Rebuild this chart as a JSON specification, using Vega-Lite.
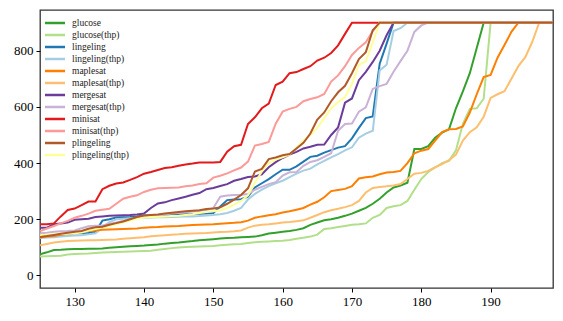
{
  "$schema": "https://vega.github.io/schema/vega-lite/v6.json",
  "width": 513,
  "height": 278,
  "autosize": "none",
  "padding": {"left": 40, "top": 10, "right": 10, "bottom": 33},
  "background": "white",
  "config": {
    "view": {"stroke": "#333333", "strokeWidth": 1.3},
    "axis": {"domain": false, "grid": false, "tickColor": "#000", "tickSize": 4, "tickWidth": 1, "labelFont": "Liberation Serif", "labelFontSize": 13, "labelColor": "#000", "labelPadding": 3, "title": null},
    "legend": {"orient": "none", "legendX": 8, "legendY": 6, "symbolType": "M-1.82,0H1.82", "symbolSize": 121, "symbolStrokeWidth": 2.5, "labelFont": "Liberation Serif", "labelFontSize": 9.5, "labelColor": "#222", "labelOffset": 10, "rowPadding": 0, "title": null, "padding": 0}
  },
  "data": {"values": [
    {"x":125,"glucose":75,"glucose(thp)":67,"lingeling":140,"lingeling(thp)":133,"maplesat":135,"maplesat(thp)":107,"mergesat":170,"mergesat(thp)":150,"minisat":182,"minisat(thp)":158,"plingeling":137,"plingeling(thp)":143},
    {"x":126,"glucose":82,"glucose(thp)":68,"lingeling":141,"lingeling(thp)":135,"maplesat":138,"maplesat(thp)":112,"mergesat":170,"mergesat(thp)":152,"minisat":182,"minisat(thp)":167,"plingeling":140,"plingeling(thp)":145},
    {"x":127,"glucose":90,"glucose(thp)":69,"lingeling":143,"lingeling(thp)":136,"maplesat":140,"maplesat(thp)":117,"mergesat":182,"mergesat(thp)":155,"minisat":185,"minisat(thp)":176,"plingeling":144,"plingeling(thp)":146},
    {"x":128,"glucose":91,"glucose(thp)":70,"lingeling":145,"lingeling(thp)":138,"maplesat":145,"maplesat(thp)":120,"mergesat":185,"mergesat(thp)":157,"minisat":210,"minisat(thp)":185,"plingeling":148,"plingeling(thp)":147},
    {"x":129,"glucose":93,"glucose(thp)":74,"lingeling":147,"lingeling(thp)":140,"maplesat":148,"maplesat(thp)":122,"mergesat":188,"mergesat(thp)":158,"minisat":233,"minisat(thp)":194,"plingeling":152,"plingeling(thp)":148},
    {"x":130,"glucose":94,"glucose(thp)":76,"lingeling":150,"lingeling(thp)":142,"maplesat":152,"maplesat(thp)":123,"mergesat":198,"mergesat(thp)":160,"minisat":238,"minisat(thp)":205,"plingeling":155,"plingeling(thp)":150},
    {"x":131,"glucose":94,"glucose(thp)":77,"lingeling":150,"lingeling(thp)":143,"maplesat":156,"maplesat(thp)":124,"mergesat":200,"mergesat(thp)":168,"minisat":250,"minisat(thp)":212,"plingeling":158,"plingeling(thp)":153},
    {"x":132,"glucose":95,"glucose(thp)":78,"lingeling":151,"lingeling(thp)":146,"maplesat":158,"maplesat(thp)":125,"mergesat":202,"mergesat(thp)":175,"minisat":263,"minisat(thp)":220,"plingeling":166,"plingeling(thp)":160},
    {"x":133,"glucose":95,"glucose(thp)":80,"lingeling":155,"lingeling(thp)":150,"maplesat":160,"maplesat(thp)":125,"mergesat":208,"mergesat(thp)":177,"minisat":263,"minisat(thp)":230,"plingeling":171,"plingeling(thp)":165},
    {"x":134,"glucose":96,"glucose(thp)":81,"lingeling":195,"lingeling(thp)":170,"maplesat":162,"maplesat(thp)":126,"mergesat":210,"mergesat(thp)":178,"minisat":307,"minisat(thp)":234,"plingeling":173,"plingeling(thp)":170},
    {"x":135,"glucose":98,"glucose(thp)":82,"lingeling":200,"lingeling(thp)":190,"maplesat":163,"maplesat(thp)":127,"mergesat":212,"mergesat(thp)":183,"minisat":319,"minisat(thp)":237,"plingeling":180,"plingeling(thp)":176},
    {"x":136,"glucose":100,"glucose(thp)":83,"lingeling":206,"lingeling(thp)":200,"maplesat":164,"maplesat(thp)":128,"mergesat":213,"mergesat(thp)":188,"minisat":327,"minisat(thp)":255,"plingeling":186,"plingeling(thp)":182},
    {"x":137,"glucose":102,"glucose(thp)":84,"lingeling":207,"lingeling(thp)":202,"maplesat":165,"maplesat(thp)":130,"mergesat":214,"mergesat(thp)":194,"minisat":331,"minisat(thp)":273,"plingeling":192,"plingeling(thp)":188},
    {"x":138,"glucose":104,"glucose(thp)":85,"lingeling":208,"lingeling(thp)":203,"maplesat":166,"maplesat(thp)":132,"mergesat":215,"mergesat(thp)":200,"minisat":340,"minisat(thp)":280,"plingeling":200,"plingeling(thp)":195},
    {"x":139,"glucose":105,"glucose(thp)":86,"lingeling":210,"lingeling(thp)":204,"maplesat":167,"maplesat(thp)":134,"mergesat":217,"mergesat(thp)":205,"minisat":350,"minisat(thp)":285,"plingeling":208,"plingeling(thp)":202},
    {"x":140,"glucose":106,"glucose(thp)":87,"lingeling":213,"lingeling(thp)":205,"maplesat":170,"maplesat(thp)":136,"mergesat":220,"mergesat(thp)":210,"minisat":362,"minisat(thp)":297,"plingeling":213,"plingeling(thp)":206},
    {"x":141,"glucose":108,"glucose(thp)":88,"lingeling":213,"lingeling(thp)":206,"maplesat":171,"maplesat(thp)":139,"mergesat":240,"mergesat(thp)":212,"minisat":368,"minisat(thp)":305,"plingeling":215,"plingeling(thp)":208},
    {"x":142,"glucose":110,"glucose(thp)":91,"lingeling":214,"lingeling(thp)":207,"maplesat":172,"maplesat(thp)":141,"mergesat":256,"mergesat(thp)":215,"minisat":375,"minisat(thp)":310,"plingeling":217,"plingeling(thp)":209},
    {"x":143,"glucose":113,"glucose(thp)":94,"lingeling":215,"lingeling(thp)":207,"maplesat":174,"maplesat(thp)":143,"mergesat":260,"mergesat(thp)":217,"minisat":382,"minisat(thp)":311,"plingeling":220,"plingeling(thp)":210},
    {"x":144,"glucose":115,"glucose(thp)":97,"lingeling":216,"lingeling(thp)":208,"maplesat":175,"maplesat(thp)":145,"mergesat":268,"mergesat(thp)":220,"minisat":385,"minisat(thp)":312,"plingeling":223,"plingeling(thp)":211},
    {"x":145,"glucose":117,"glucose(thp)":99,"lingeling":217,"lingeling(thp)":209,"maplesat":176,"maplesat(thp)":146,"mergesat":274,"mergesat(thp)":222,"minisat":390,"minisat(thp)":313,"plingeling":226,"plingeling(thp)":212},
    {"x":146,"glucose":120,"glucose(thp)":101,"lingeling":218,"lingeling(thp)":210,"maplesat":178,"maplesat(thp)":148,"mergesat":280,"mergesat(thp)":225,"minisat":395,"minisat(thp)":317,"plingeling":228,"plingeling(thp)":215},
    {"x":147,"glucose":122,"glucose(thp)":102,"lingeling":218,"lingeling(thp)":210,"maplesat":179,"maplesat(thp)":149,"mergesat":287,"mergesat(thp)":227,"minisat":398,"minisat(thp)":320,"plingeling":230,"plingeling(thp)":218},
    {"x":148,"glucose":125,"glucose(thp)":103,"lingeling":219,"lingeling(thp)":211,"maplesat":180,"maplesat(thp)":150,"mergesat":293,"mergesat(thp)":230,"minisat":402,"minisat(thp)":325,"plingeling":232,"plingeling(thp)":222},
    {"x":149,"glucose":127,"glucose(thp)":104,"lingeling":220,"lingeling(thp)":213,"maplesat":181,"maplesat(thp)":151,"mergesat":307,"mergesat(thp)":233,"minisat":402,"minisat(thp)":328,"plingeling":236,"plingeling(thp)":226},
    {"x":150,"glucose":129,"glucose(thp)":105,"lingeling":222,"lingeling(thp)":215,"maplesat":182,"maplesat(thp)":153,"mergesat":311,"mergesat(thp)":240,"minisat":402,"minisat(thp)":348,"plingeling":238,"plingeling(thp)":228},
    {"x":151,"glucose":131,"glucose(thp)":107,"lingeling":245,"lingeling(thp)":218,"maplesat":184,"maplesat(thp)":154,"mergesat":318,"mergesat(thp)":280,"minisat":404,"minisat(thp)":355,"plingeling":242,"plingeling(thp)":232},
    {"x":152,"glucose":133,"glucose(thp)":109,"lingeling":268,"lingeling(thp)":222,"maplesat":186,"maplesat(thp)":155,"mergesat":325,"mergesat(thp)":284,"minisat":440,"minisat(thp)":363,"plingeling":255,"plingeling(thp)":240},
    {"x":153,"glucose":134,"glucose(thp)":111,"lingeling":270,"lingeling(thp)":230,"maplesat":187,"maplesat(thp)":157,"mergesat":337,"mergesat(thp)":286,"minisat":460,"minisat(thp)":374,"plingeling":270,"plingeling(thp)":252},
    {"x":154,"glucose":136,"glucose(thp)":112,"lingeling":271,"lingeling(thp)":240,"maplesat":189,"maplesat(thp)":160,"mergesat":343,"mergesat(thp)":287,"minisat":465,"minisat(thp)":384,"plingeling":286,"plingeling(thp)":265},
    {"x":155,"glucose":137,"glucose(thp)":115,"lingeling":280,"lingeling(thp)":270,"maplesat":195,"maplesat(thp)":170,"mergesat":350,"mergesat(thp)":290,"minisat":539,"minisat(thp)":405,"plingeling":310,"plingeling(thp)":285},
    {"x":156,"glucose":138,"glucose(thp)":118,"lingeling":313,"lingeling(thp)":290,"maplesat":205,"maplesat(thp)":177,"mergesat":352,"mergesat(thp)":305,"minisat":563,"minisat(thp)":462,"plingeling":370,"plingeling(thp)":330},
    {"x":157,"glucose":143,"glucose(thp)":120,"lingeling":328,"lingeling(thp)":305,"maplesat":210,"maplesat(thp)":180,"mergesat":360,"mergesat(thp)":315,"minisat":595,"minisat(thp)":468,"plingeling":379,"plingeling(thp)":370},
    {"x":158,"glucose":149,"glucose(thp)":121,"lingeling":343,"lingeling(thp)":318,"maplesat":214,"maplesat(thp)":182,"mergesat":385,"mergesat(thp)":325,"minisat":612,"minisat(thp)":475,"plingeling":414,"plingeling(thp)":400},
    {"x":159,"glucose":152,"glucose(thp)":122,"lingeling":360,"lingeling(thp)":328,"maplesat":218,"maplesat(thp)":185,"mergesat":403,"mergesat(thp)":332,"minisat":678,"minisat(thp)":540,"plingeling":420,"plingeling(thp)":412},
    {"x":160,"glucose":155,"glucose(thp)":123,"lingeling":376,"lingeling(thp)":337,"maplesat":224,"maplesat(thp)":188,"mergesat":418,"mergesat(thp)":355,"minisat":690,"minisat(thp)":583,"plingeling":428,"plingeling(thp)":420},
    {"x":161,"glucose":158,"glucose(thp)":126,"lingeling":376,"lingeling(thp)":350,"maplesat":228,"maplesat(thp)":190,"mergesat":430,"mergesat(thp)":367,"minisat":720,"minisat(thp)":593,"plingeling":432,"plingeling(thp)":430},
    {"x":162,"glucose":162,"glucose(thp)":130,"lingeling":388,"lingeling(thp)":362,"maplesat":234,"maplesat(thp)":193,"mergesat":440,"mergesat(thp)":368,"minisat":724,"minisat(thp)":600,"plingeling":452,"plingeling(thp)":455},
    {"x":163,"glucose":168,"glucose(thp)":134,"lingeling":405,"lingeling(thp)":373,"maplesat":240,"maplesat(thp)":196,"mergesat":452,"mergesat(thp)":390,"minisat":735,"minisat(thp)":620,"plingeling":472,"plingeling(thp)":480},
    {"x":164,"glucose":180,"glucose(thp)":138,"lingeling":422,"lingeling(thp)":380,"maplesat":252,"maplesat(thp)":205,"mergesat":458,"mergesat(thp)":404,"minisat":745,"minisat(thp)":628,"plingeling":505,"plingeling(thp)":500},
    {"x":165,"glucose":188,"glucose(thp)":145,"lingeling":426,"lingeling(thp)":395,"maplesat":262,"maplesat(thp)":215,"mergesat":465,"mergesat(thp)":410,"minisat":765,"minisat(thp)":634,"plingeling":555,"plingeling(thp)":525},
    {"x":166,"glucose":196,"glucose(thp)":165,"lingeling":437,"lingeling(thp)":408,"maplesat":278,"maplesat(thp)":225,"mergesat":466,"mergesat(thp)":422,"minisat":775,"minisat(thp)":646,"plingeling":580,"plingeling(thp)":560},
    {"x":167,"glucose":200,"glucose(thp)":168,"lingeling":446,"lingeling(thp)":420,"maplesat":300,"maplesat(thp)":232,"mergesat":500,"mergesat(thp)":435,"minisat":792,"minisat(thp)":690,"plingeling":620,"plingeling(thp)":595},
    {"x":168,"glucose":205,"glucose(thp)":172,"lingeling":455,"lingeling(thp)":432,"maplesat":304,"maplesat(thp)":237,"mergesat":527,"mergesat(thp)":515,"minisat":819,"minisat(thp)":712,"plingeling":652,"plingeling(thp)":617},
    {"x":169,"glucose":212,"glucose(thp)":176,"lingeling":460,"lingeling(thp)":445,"maplesat":308,"maplesat(thp)":243,"mergesat":615,"mergesat(thp)":539,"minisat":860,"minisat(thp)":745,"plingeling":675,"plingeling(thp)":635},
    {"x":170,"glucose":220,"glucose(thp)":180,"lingeling":488,"lingeling(thp)":456,"maplesat":318,"maplesat(thp)":250,"mergesat":630,"mergesat(thp)":541,"minisat":900,"minisat(thp)":785,"plingeling":720,"plingeling(thp)":682},
    {"x":171,"glucose":230,"glucose(thp)":182,"lingeling":525,"lingeling(thp)":490,"maplesat":345,"maplesat(thp)":265,"mergesat":695,"mergesat(thp)":583,"minisat":900,"minisat(thp)":810,"plingeling":770,"plingeling(thp)":750},
    {"x":172,"glucose":240,"glucose(thp)":185,"lingeling":560,"lingeling(thp)":505,"maplesat":349,"maplesat(thp)":295,"mergesat":725,"mergesat(thp)":598,"minisat":900,"minisat(thp)":830,"plingeling":795,"plingeling(thp)":762},
    {"x":173,"glucose":255,"glucose(thp)":205,"lingeling":566,"lingeling(thp)":515,"maplesat":352,"maplesat(thp)":311,"mergesat":760,"mergesat(thp)":664,"minisat":900,"minisat(thp)":870,"plingeling":873,"plingeling(thp)":830},
    {"x":174,"glucose":273,"glucose(thp)":215,"lingeling":754,"lingeling(thp)":730,"maplesat":360,"maplesat(thp)":315,"mergesat":800,"mergesat(thp)":674,"minisat":900,"minisat(thp)":900,"plingeling":900,"plingeling(thp)":900},
    {"x":175,"glucose":295,"glucose(thp)":240,"lingeling":825,"lingeling(thp)":750,"maplesat":366,"maplesat(thp)":317,"mergesat":855,"mergesat(thp)":682,"minisat":900,"minisat(thp)":900,"plingeling":900,"plingeling(thp)":900},
    {"x":176,"glucose":313,"glucose(thp)":246,"lingeling":900,"lingeling(thp)":870,"maplesat":368,"maplesat(thp)":320,"mergesat":900,"mergesat(thp)":725,"minisat":900,"minisat(thp)":900,"plingeling":900,"plingeling(thp)":900},
    {"x":177,"glucose":320,"glucose(thp)":250,"lingeling":900,"lingeling(thp)":880,"maplesat":372,"maplesat(thp)":325,"mergesat":900,"mergesat(thp)":763,"minisat":900,"minisat(thp)":900,"plingeling":900,"plingeling(thp)":900},
    {"x":178,"glucose":330,"glucose(thp)":265,"lingeling":900,"lingeling(thp)":900,"maplesat":400,"maplesat(thp)":343,"mergesat":900,"mergesat(thp)":800,"minisat":900,"minisat(thp)":900,"plingeling":900,"plingeling(thp)":900},
    {"x":179,"glucose":450,"glucose(thp)":305,"lingeling":900,"lingeling(thp)":900,"maplesat":435,"maplesat(thp)":362,"mergesat":900,"mergesat(thp)":867,"minisat":900,"minisat(thp)":900,"plingeling":900,"plingeling(thp)":900},
    {"x":180,"glucose":450,"glucose(thp)":343,"lingeling":900,"lingeling(thp)":900,"maplesat":444,"maplesat(thp)":365,"mergesat":900,"mergesat(thp)":890,"minisat":900,"minisat(thp)":900,"plingeling":900,"plingeling(thp)":900},
    {"x":181,"glucose":460,"glucose(thp)":368,"lingeling":900,"lingeling(thp)":900,"maplesat":450,"maplesat(thp)":372,"mergesat":900,"mergesat(thp)":900,"minisat":900,"minisat(thp)":900,"plingeling":900,"plingeling(thp)":900},
    {"x":182,"glucose":490,"glucose(thp)":384,"lingeling":900,"lingeling(thp)":900,"maplesat":480,"maplesat(thp)":385,"mergesat":900,"mergesat(thp)":900,"minisat":900,"minisat(thp)":900,"plingeling":900,"plingeling(thp)":900},
    {"x":183,"glucose":508,"glucose(thp)":400,"lingeling":900,"lingeling(thp)":900,"maplesat":510,"maplesat(thp)":396,"mergesat":900,"mergesat(thp)":900,"minisat":900,"minisat(thp)":900,"plingeling":900,"plingeling(thp)":900},
    {"x":184,"glucose":520,"glucose(thp)":408,"lingeling":900,"lingeling(thp)":900,"maplesat":520,"maplesat(thp)":410,"mergesat":900,"mergesat(thp)":900,"minisat":900,"minisat(thp)":900,"plingeling":900,"plingeling(thp)":900},
    {"x":185,"glucose":595,"glucose(thp)":445,"lingeling":900,"lingeling(thp)":900,"maplesat":521,"maplesat(thp)":430,"mergesat":900,"mergesat(thp)":900,"minisat":900,"minisat(thp)":900,"plingeling":900,"plingeling(thp)":900},
    {"x":186,"glucose":655,"glucose(thp)":540,"lingeling":900,"lingeling(thp)":900,"maplesat":530,"maplesat(thp)":480,"mergesat":900,"mergesat(thp)":900,"minisat":900,"minisat(thp)":900,"plingeling":900,"plingeling(thp)":900},
    {"x":187,"glucose":720,"glucose(thp)":593,"lingeling":900,"lingeling(thp)":900,"maplesat":580,"maplesat(thp)":510,"mergesat":900,"mergesat(thp)":900,"minisat":900,"minisat(thp)":900,"plingeling":900,"plingeling(thp)":900},
    {"x":188,"glucose":810,"glucose(thp)":595,"lingeling":900,"lingeling(thp)":900,"maplesat":645,"maplesat(thp)":527,"mergesat":900,"mergesat(thp)":900,"minisat":900,"minisat(thp)":900,"plingeling":900,"plingeling(thp)":900},
    {"x":189,"glucose":900,"glucose(thp)":629,"lingeling":900,"lingeling(thp)":900,"maplesat":706,"maplesat(thp)":565,"mergesat":900,"mergesat(thp)":900,"minisat":900,"minisat(thp)":900,"plingeling":900,"plingeling(thp)":900},
    {"x":190,"glucose":900,"glucose(thp)":900,"lingeling":900,"lingeling(thp)":900,"maplesat":714,"maplesat(thp)":632,"mergesat":900,"mergesat(thp)":900,"minisat":900,"minisat(thp)":900,"plingeling":900,"plingeling(thp)":900},
    {"x":191,"glucose":900,"glucose(thp)":900,"lingeling":900,"lingeling(thp)":900,"maplesat":775,"maplesat(thp)":645,"mergesat":900,"mergesat(thp)":900,"minisat":900,"minisat(thp)":900,"plingeling":900,"plingeling(thp)":900},
    {"x":192,"glucose":900,"glucose(thp)":900,"lingeling":900,"lingeling(thp)":900,"maplesat":820,"maplesat(thp)":656,"mergesat":900,"mergesat(thp)":900,"minisat":900,"minisat(thp)":900,"plingeling":900,"plingeling(thp)":900},
    {"x":193,"glucose":900,"glucose(thp)":900,"lingeling":900,"lingeling(thp)":900,"maplesat":867,"maplesat(thp)":700,"mergesat":900,"mergesat(thp)":900,"minisat":900,"minisat(thp)":900,"plingeling":900,"plingeling(thp)":900},
    {"x":194,"glucose":900,"glucose(thp)":900,"lingeling":900,"lingeling(thp)":900,"maplesat":900,"maplesat(thp)":745,"mergesat":900,"mergesat(thp)":900,"minisat":900,"minisat(thp)":900,"plingeling":900,"plingeling(thp)":900},
    {"x":195,"glucose":900,"glucose(thp)":900,"lingeling":900,"lingeling(thp)":900,"maplesat":900,"maplesat(thp)":777,"mergesat":900,"mergesat(thp)":900,"minisat":900,"minisat(thp)":900,"plingeling":900,"plingeling(thp)":900},
    {"x":196,"glucose":900,"glucose(thp)":900,"lingeling":900,"lingeling(thp)":900,"maplesat":900,"maplesat(thp)":831,"mergesat":900,"mergesat(thp)":900,"minisat":900,"minisat(thp)":900,"plingeling":900,"plingeling(thp)":900},
    {"x":197,"glucose":900,"glucose(thp)":900,"lingeling":900,"lingeling(thp)":900,"maplesat":900,"maplesat(thp)":900,"mergesat":900,"mergesat(thp)":900,"minisat":900,"minisat(thp)":900,"plingeling":900,"plingeling(thp)":900},
    {"x":198,"glucose":900,"glucose(thp)":900,"lingeling":900,"lingeling(thp)":900,"maplesat":900,"maplesat(thp)":900,"mergesat":900,"mergesat(thp)":900,"minisat":900,"minisat(thp)":900,"plingeling":900,"plingeling(thp)":900},
    {"x":199,"glucose":900,"glucose(thp)":900,"lingeling":900,"lingeling(thp)":900,"maplesat":900,"maplesat(thp)":900,"mergesat":900,"mergesat(thp)":900,"minisat":900,"minisat(thp)":900,"plingeling":900,"plingeling(thp)":900}
  ]},
  "transform": [
    {"fold": ["glucose","glucose(thp)","lingeling","lingeling(thp)","maplesat","maplesat(thp)","mergesat","mergesat(thp)","minisat","minisat(thp)","plingeling(thp)","plingeling"], "as": ["solver","time"]}
  ],
  "mark": {"type": "line", "strokeWidth": 2, "clip": true},
  "encoding": {
    "x": {"field": "x", "type": "quantitative", "scale": {"domain": [125, 199], "nice": false, "zero": false}, "axis": {"values": [130,140,150,160,170,180,190]}},
    "y": {"field": "time", "type": "quantitative", "scale": {"domain": [-45, 945], "nice": false, "zero": false}, "axis": {"values": [0,200,400,600,800]}},
    "color": {"field": "solver", "type": "nominal",
      "scale": {"domain": ["glucose","glucose(thp)","lingeling","lingeling(thp)","maplesat","maplesat(thp)","mergesat","mergesat(thp)","minisat","minisat(thp)","plingeling","plingeling(thp)"],
                "range": ["#33a02c","#b2df8a","#1f78b4","#a6cee3","#ff7f00","#fdbf6f","#6a3d9a","#cab2d6","#e31a1c","#fb9a99","#b15928","#ffff99"]},
      "legend": {}}
  }
}
